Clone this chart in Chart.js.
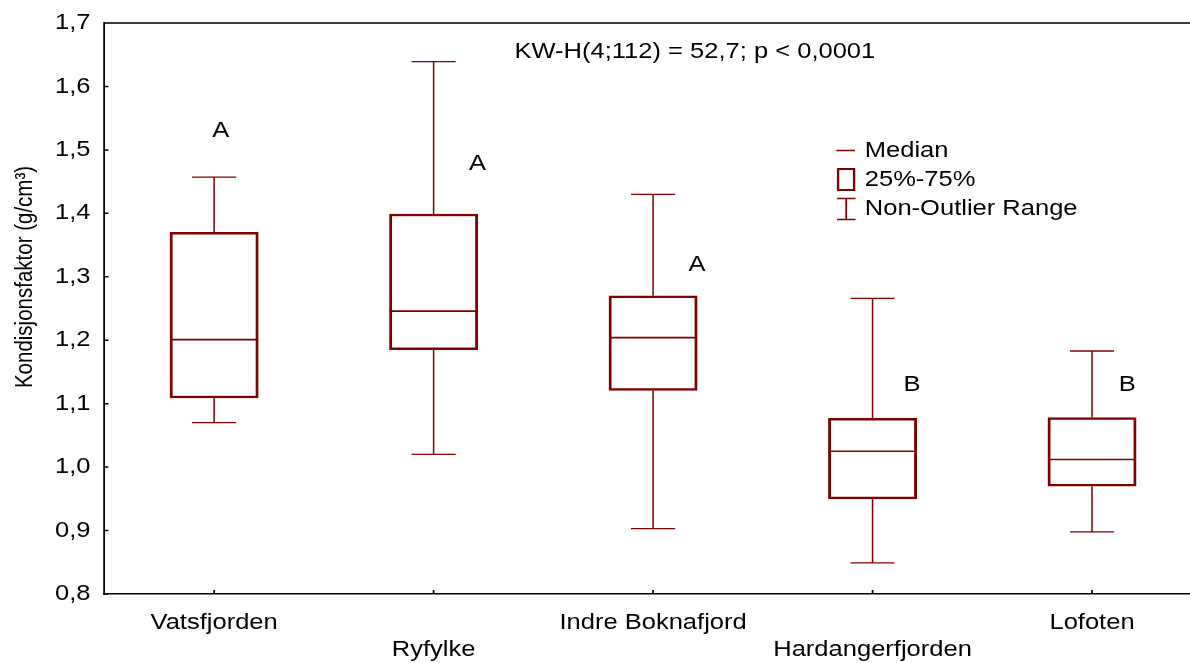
<!DOCTYPE html>
<html>
<head>
<meta charset="utf-8">
<title>Kondisjonsfaktor</title>
<script src="https://cdn.jsdelivr.net/npm/chart.js@4.4.0/dist/chart.umd.min.js"></script>
<style>
    html, body { margin: 0; padding: 0; background: #fff; overflow: hidden; }
    canvas { display: block; }
</style>
</head>
<body>
<canvas id="boxChart" width="1036" height="663"></canvas>
<script>
// data
const sites = ['Vatsfjorden', 'Ryfylke', 'Indre Boknafjord', 'Hardangerfjorden', 'Lofoten'];
const whiskerLow = [1.070, 1.020, 0.903, 0.849, 0.898];
const quartile1 = [1.109, 1.185, 1.121, 0.950, 0.970];
const medians = [1.201, 1.246, 1.204, 1.025, 1.012];
const quartile3 = [1.370, 1.399, 1.270, 1.077, 1.078];
const whiskerHigh = [1.457, 1.639, 1.430, 1.266, 1.183];

// group letters, placed in data units (category index, y value)
const groupLetters = ['A', 'A', 'A', 'B', 'B'];
const letterAtX = [0.03, 1.2, 2.2, 3.18, 4.16];
const letterAtY = [1.530, 1.478, 1.319, 1.130, 1.130];

const statText = 'KW-H(4;112) = 52,7; p < 0,0001';
const legendLabels = ['Median', '25%-75%', 'Non-Outlier Range'];
const yTitle = 'Kondisjonsfaktor (g/cm\u00B3)';

const boxColor = '#800000';
const fontFamily = "'Liberation Sans', Arial, Helvetica, sans-serif";
// the original figure is a little wider than tall in its lettering
const stretchX = 1.16;

const stretch = {
    id: 'stretch',
    beforeDraw(chart) {
        chart.ctx.save();
        chart.ctx.setTransform(stretchX, 0, 0, 1, 0, 0);
    },
    afterDraw(chart) {
        chart.ctx.restore();
    }
};

const boxExtras = {
    id: 'boxExtras',
    afterDatasetsDraw(chart) {
        const ctx = chart.ctx;
        const x = chart.scales.x;
        const y = chart.scales.y;
        const area = chart.chartArea;
        const capHalf = 19;
        const boxHalf = 38;

        ctx.save();
        ctx.strokeStyle = boxColor;
        sites.forEach((s, i) => {
            const cx = x.getPixelForValue(i);
            const yLo = y.getPixelForValue(whiskerLow[i]);
            const yQ1 = y.getPixelForValue(quartile1[i]);
            const yQ3 = y.getPixelForValue(quartile3[i]);
            const yHi = y.getPixelForValue(whiskerHigh[i]);
            ctx.lineWidth = 1.3;
            ctx.beginPath();
            ctx.moveTo(cx, yQ3); ctx.lineTo(cx, yHi);
            ctx.moveTo(cx - capHalf, yHi); ctx.lineTo(cx + capHalf, yHi);
            ctx.moveTo(cx, yQ1); ctx.lineTo(cx, yLo);
            ctx.moveTo(cx - capHalf, yLo); ctx.lineTo(cx + capHalf, yLo);
            ctx.stroke();

            const yMed = y.getPixelForValue(medians[i]);
            ctx.lineWidth = 1.7;
            ctx.beginPath();
            ctx.moveTo(cx - boxHalf, yMed); ctx.lineTo(cx + boxHalf, yMed);
            ctx.stroke();
        });

        // letters
        ctx.fillStyle = '#000';
        ctx.font = '22px ' + fontFamily;
        ctx.textAlign = 'center';
        ctx.textBaseline = 'middle';
        groupLetters.forEach((l, i) => {
            ctx.fillText(l, x.getPixelForValue(letterAtX[i]), y.getPixelForValue(letterAtY[i]));
        });

        // statistic
        ctx.fillText(statText, 599, 52);

        // legend
        ctx.textAlign = 'left';
        ctx.fillText(legendLabels[0], 745.5, 151);
        ctx.fillText(legendLabels[1], 745.5, 180);
        ctx.fillText(legendLabels[2], 745.5, 209);
        ctx.strokeStyle = boxColor;
        ctx.lineWidth = 1.5;
        ctx.beginPath();
        ctx.moveTo(721, 150.5); ctx.lineTo(737, 150.5);
        ctx.moveTo(729.5, 198); ctx.lineTo(729.5, 219);
        ctx.moveTo(721.5, 198.5); ctx.lineTo(737.5, 198.5);
        ctx.moveTo(721.5, 219.5); ctx.lineTo(737.5, 219.5);
        ctx.stroke();
        ctx.lineWidth = 2;
        ctx.strokeRect(722.5, 169, 13.8, 21);

        // frame top line and inward ticks
        ctx.strokeStyle = '#000';
        ctx.lineWidth = 1.5;
        ctx.beginPath();
        ctx.moveTo(area.left, area.top); ctx.lineTo(area.right, area.top);
        y.ticks.forEach((t, i) => {
            const py = y.getPixelForTick(i);
            ctx.moveTo(area.left, py); ctx.lineTo(area.left + 3.5, py);
        });
        sites.forEach((s, i) => {
            const px = x.getPixelForValue(i);
            ctx.moveTo(px, area.bottom); ctx.lineTo(px, area.bottom - 4);
        });
        ctx.stroke();

        // y axis title
        ctx.translate(22, 277);
        ctx.rotate(-Math.PI / 2);
        ctx.textAlign = 'center';
        ctx.font = '20.5px ' + fontFamily;
        ctx.fillText(yTitle, 0, 0);
        ctx.restore();
    }
};

const canvas = document.getElementById('boxChart');
const boxChart = new Chart(canvas.getContext('2d'), {
    type: 'bar',
    data: {
        labels: sites,
        datasets: [{
            label: '25%-75%',
            data: sites.map((s, i) => [quartile1[i], quartile3[i]]),
            backgroundColor: '#ffffff',
            borderColor: boxColor,
            borderWidth: 2.5,
            borderSkipped: false,
            barThickness: 76
        }]
    },
    options: {
        responsive: false,
        devicePixelRatio: 1,
        animation: false,
        layout: { padding: { top: 21, right: 0, left: 0, bottom: 0 } },
        plugins: {
            legend: { display: false },
            tooltip: { enabled: false }
        },
        scales: {
            x: {
                grid: { display: false, drawTicks: false },
                border: { display: true, color: '#000', width: 1.5 },
                ticks: {
                    color: '#000',
                    padding: 15,
                    autoSkip: false,
                    maxRotation: 0,
                    font: { family: fontFamily, size: 22, lineHeight: 1.25 },
                    callback: function (value, index) {
                        const name = this.getLabelForValue(value);
                        return index % 2 === 0 ? name : ['', name];
                    }
                },
                afterFit: function (axis) { axis.height = 69; }
            },
            y: {
                min: 0.8,
                max: 1.7,
                grid: { display: false, drawTicks: false },
                border: { display: true, color: '#000', width: 1.5 },
                ticks: {
                    stepSize: 0.1,
                    color: '#000',
                    padding: 12,
                    font: { family: fontFamily, size: 22, lineHeight: 1 },
                    callback: function (value) {
                        return value.toFixed(1).replace('.', ',');
                    }
                },
                afterFit: function (axis) { axis.width = 90; }
            }
        }
    },
    plugins: [stretch, boxExtras]
});

// widen the drawing surface and redraw through the horizontal stretch
canvas.width = 1202;
canvas.style.width = '1202px';
boxChart.draw();
</script>
</body>
</html>
